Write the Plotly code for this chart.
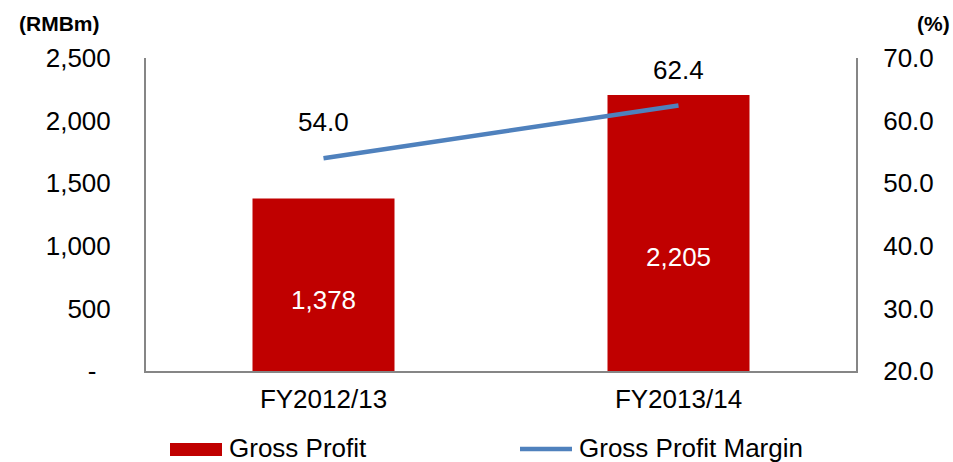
import plotly.graph_objects as go

categories = ["FY2012/13", "FY2013/14"]
gross_profit = [1378, 2205]
gross_profit_labels = ["1,378", "2,205"]
margin_pct = [54.0, 62.4]
margin_labels = ["54.0", "62.4"]
left_ticks = [0, 500, 1000, 1500, 2000, 2500]
left_ticktext = ["-\u00a0\u00a0", "500", "1,000", "1,500", "2,000", "2,500"]
right_ticks = [20, 30, 40, 50, 60, 70]
right_ticktext = ["20.0", "30.0", "40.0", "50.0", "60.0", "70.0"]

FONT = "Liberation Sans, Arial, sans-serif"
RED = "#C00000"
BLUE = "#4F81BD"
AXIS = "#868686"

W, H = 953, 462
L, R, T, B = 146, 97, 58, 91
pw, ph = W - L - R, H - T - B
def px(x):
    return (x - L) / pw
def py(y):
    return (H - B - y) / ph

fig = go.Figure()
fig.add_trace(go.Bar(x=categories, y=gross_profit, marker=dict(color=RED, line=dict(width=0)),
                     width=0.4, showlegend=False, yaxis="y"))
fig.add_trace(go.Scatter(x=categories, y=margin_pct, mode="lines", yaxis="y2",
                         line=dict(color=BLUE, width=4.5), showlegend=False))

for c, v, t in zip(categories, gross_profit, gross_profit_labels):
    fig.add_annotation(x=c, y=v * 0.412, xref="x", yref="y", text=t, showarrow=False,
                       font=dict(family=FONT, size=26, color="white"))
for c, v, t in zip(categories, margin_pct, margin_labels):
    fig.add_annotation(x=c, y=v, xref="x", yref="y2", text=t, showarrow=False, yshift=36,
                       font=dict(family=FONT, size=26, color="black"))

fig.add_annotation(x=px(17), y=py(23), xref="paper", yref="paper", text="<b>(RMBm)</b>",
                   xanchor="left", yanchor="middle", showarrow=False,
                   font=dict(family=FONT, size=21, color="black"))
fig.add_annotation(x=px(952), y=py(23), xref="paper", yref="paper", text="<b>(%)</b>",
                   xanchor="right", yanchor="middle", showarrow=False,
                   font=dict(family=FONT, size=21, color="black"))

# legend (manual)
fig.add_shape(type="rect", xref="paper", yref="paper", x0=px(170), x1=px(222), y0=py(456), y1=py(443),
              fillcolor=RED, line=dict(width=0))
fig.add_annotation(x=px(227), y=py(448), xref="paper", yref="paper", text="Gross Profit",
                   xanchor="left", yanchor="middle", showarrow=False,
                   font=dict(family=FONT, size=26, color="black"))
fig.add_shape(type="line", xref="paper", yref="paper", x0=px(520), x1=px(572), y0=py(449), y1=py(449),
              line=dict(color=BLUE, width=4.5))
fig.add_annotation(x=px(577), y=py(448), xref="paper", yref="paper", text="Gross Profit Margin",
                   xanchor="left", yanchor="middle", showarrow=False,
                   font=dict(family=FONT, size=26, color="black"))

fig.update_layout(
    width=W, height=H,
    margin=dict(l=L, r=R, t=T, b=B, pad=0),
    paper_bgcolor="white", plot_bgcolor="white",
    font=dict(family=FONT, size=26, color="black"),
    showlegend=False,
    xaxis=dict(type="category", range=[-0.5, 1.5], showgrid=False, showline=True, linecolor=AXIS,
               linewidth=2, ticks="", tickfont=dict(size=26), ticklabelstandoff=4),
    yaxis=dict(range=[0, 2500], tickvals=left_ticks, ticktext=left_ticktext, showgrid=False,
               showline=True, linecolor=AXIS, linewidth=2, ticks="", zeroline=False,
               tickfont=dict(size=26), ticklabelstandoff=28),
    yaxis2=dict(range=[20, 70], tickvals=right_ticks, ticktext=right_ticktext, overlaying="y",
                side="right", showgrid=False, showline=True, linecolor=AXIS, linewidth=2, ticks="",
                zeroline=False, tickfont=dict(size=26), ticklabelstandoff=20),
)

fig.write_html("out.html", config={"displayModeBar": False},
               post_script="document.body.style.margin='0';document.body.style.overflow='hidden';")
